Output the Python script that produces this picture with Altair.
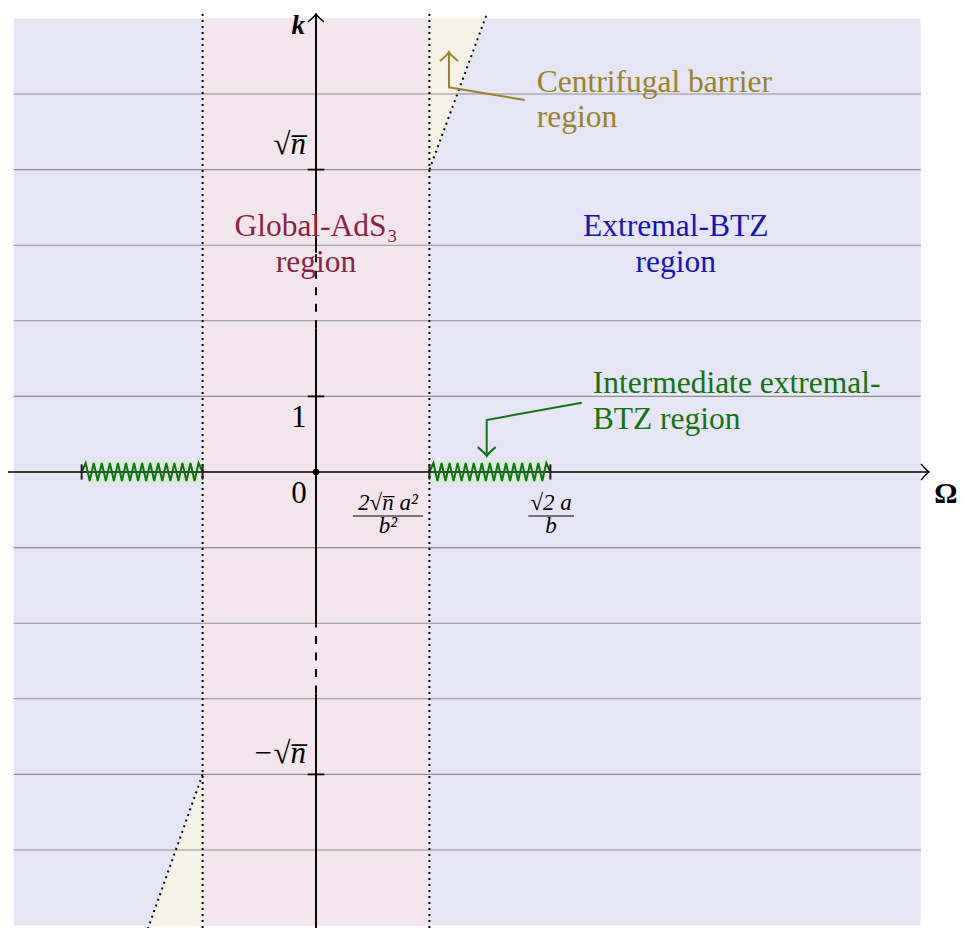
import altair as alt
import pandas as pd

# ---------------- data (diagram units: 1 grid step) ----------------
U = 75.6                      # px per unit (layout only)
W, H = 949, 920
XMIN, XMAX = -308 / U, (W - 308) / U
YMIN, YMAX = -(H - 464) / U, 464 / U

omega_range = [-4.0, 8.0]
k_range = [-6.0, 6.0]
omega_ads = 1.5               # 2 sqrt(n) a^2 / b^2
omega_btz = 3.1               # sqrt(2) a / b
sqrt_n = 4.0
grid_k = [-5, -4, -3, -2, -1, 1, 2, 3, 4, 5]
ytick_k = [4, 1, -4]
barrier_up = [[1.5, 4.0], [2.26, 6.06]]
barrier_dn = [[-1.5, -4.0], [-2.23, -6.06]]
dash_k_top = [1.9, 2.9]
dash_k_bot = [-2.93, -2.02]
zig_teeth = 15

region_labels = [
    ["Global-AdS\u2083", "region"],
    ["Extremal-BTZ", "region"],
    ["Centrifugal barrier", "region"],
    ["Intermediate extremal-", "BTZ region"],
]
ytick_labels = ["\u221an\u0305", "1", "0", "\u2212\u221an\u0305"]
xtick_num = ["2\u221an\u0305 a\u00b2", "\u221a2 a"]
xtick_den = ["b\u00b2", "b"]

LAV = "#e6e5f5"
PINK = "#f2e6ec"
YEL = "#f5f3e6"
GREEN = "#0f760f"
OLIVE = "#9a8226"
MAROON = "#8b1f45"
BLUE = "#1515b8"
FONT = "Liberation Serif, Times New Roman, serif"

xs = alt.Scale(domain=[XMIN, XMAX], nice=False, zero=False)
ys = alt.Scale(domain=[YMIN, YMAX], nice=False, zero=False)


def X(f="x"):
    return alt.X(f + ":Q", scale=xs, axis=None)


def Y(f="y"):
    return alt.Y(f + ":Q", scale=ys, axis=None)


def rects(rows, color):
    df = pd.DataFrame(rows, columns=["x", "x2", "y", "y2"])
    return alt.Chart(df).mark_rect(color=color).encode(
        x=X(), x2="x2:Q", y=Y(), y2="y2:Q")


def segs(rows, color, width, dash=None, cap="butt"):
    df = pd.DataFrame(rows, columns=["x", "x2", "y", "y2"])
    kw = dict(color=color, strokeWidth=width, strokeCap=cap)
    if dash:
        kw["strokeDash"] = dash
    return alt.Chart(df).mark_rule(**kw).encode(
        x=X(), x2="x2:Q", y=Y(), y2="y2:Q")


def polyline(pts, color, width, dash=None):
    df = pd.DataFrame(pts, columns=["x", "y"])
    df["o"] = range(len(df))
    kw = dict(color=color, strokeWidth=width)
    if dash:
        kw["strokeDash"] = dash
    return alt.Chart(df).mark_line(**kw).encode(
        x=X(), y=Y(), order="o:Q")


ARROW = "M -1 -1 Q -0.35 -0.2 0 0 Q -0.35 0.2 -1 1"


def head(x, y, angle, color, size, width=1.5):
    df = pd.DataFrame({"x": [x], "y": [y]})
    return alt.Chart(df).mark_point(
        shape=ARROW, filled=False, stroke=color, strokeWidth=width,
        size=size, angle=angle, opacity=1).encode(x=X(), y=Y())


def texts(rows, color, size, align="center", style="normal", weight="normal"):
    df = pd.DataFrame(rows, columns=["x", "y", "t"])
    return alt.Chart(df).mark_text(
        font=FONT, fontSize=size, color=color, align=align,
        baseline="alphabetic", fontStyle=style, fontWeight=weight).encode(
        x=X(), y=Y(), text="t:N")


layers = []
# backgrounds
layers.append(rects([[omega_range[0], omega_range[1], k_range[0], k_range[1]]], LAV))
layers.append(rects([[-omega_ads, omega_ads, k_range[0], k_range[1]]], PINK))
tri = pd.DataFrame({
    "x": [barrier_up[0][0], barrier_up[1][0] - (barrier_up[1][1] - 6.0) * 0.37],
    "y": [barrier_up[0][1], 6.0], "y2": [6.0, 6.0]})
layers.append(alt.Chart(tri).mark_area(color=YEL, opacity=1).encode(x=X(), y=Y(), y2="y2:Q"))
tri2 = pd.DataFrame({
    "x": [barrier_dn[1][0] + (-6.0 - barrier_dn[1][1]) * 0.37, barrier_dn[0][0]],
    "y": [-6.0, -6.0], "y2": [-6.0, barrier_dn[0][1]]})
layers.append(alt.Chart(tri2).mark_area(color=YEL, opacity=1).encode(x=X(), y=Y(), y2="y2:Q"))

# grid lines
layers.append(segs([[omega_range[0], omega_range[1], k, k] for k in grid_k], "#8e8e8e", 1.1))

# green bands behind the zigzags
layers.append(rects([[omega_ads, 3.03, -0.145, 0.145], [-3.0, -omega_ads, -0.145, 0.145]], "#d9ead6"))

# dotted boundaries
DOT = [2.0, 4.0]
layers.append(segs([[omega_ads, omega_ads, YMIN, 6.06], [-omega_ads, -omega_ads, YMIN, 6.06]],
                   "black", 2.0, DOT))
layers.append(polyline(barrier_up, "black", 2.0, DOT))
layers.append(polyline(barrier_dn, "black", 2.0, DOT))

# axes
layers.append(segs([[XMIN, 8.11, 0, 0]], "black", 1.4))
layers.append(segs([[0, 0, YMIN, dash_k_bot[0]], [0, 0, dash_k_bot[1], dash_k_top[0]],
                    [0, 0, dash_k_top[1], 6.06]], "black", 1.9))
layers.append(segs([[0, 0, dash_k_bot[0], dash_k_bot[1]], [0, 0, dash_k_top[0], dash_k_top[1]]],
                   "black", 1.9, [8, 8.5]))
layers.append(head(8.11, 0, 0, "black", 256, 1.4))
layers.append(head(0, 6.06, 270, "black", 256, 1.4))

# y ticks
layers.append(segs([[-0.11, 0.11, k, k] for k in ytick_k], "black", 1.8))

# zigzags
amp = 9 / U


def zig(a, b):
    n = 2 * zig_teeth
    pts = []
    for i in range(n + 1):
        xv = a + i * (b - a) / n
        yv = 0 if i in (0, n) else (amp if i % 2 else -amp)
        pts.append([xv, yv])
    return pts


layers.append(polyline(zig(omega_ads, omega_btz), GREEN, 2.0))
layers.append(polyline(zig(-omega_btz, -omega_ads), GREEN, 2.0))
layers.append(segs([[v, v, -0.1, 0.1] for v in [-omega_btz, -omega_ads, omega_ads, omega_btz]],
                   "#1a1a1a", 2.0))

# origin dot
layers.append(alt.Chart(pd.DataFrame({"x": [0], "y": [0]})).mark_point(
    filled=True, color="black", size=40, opacity=1).encode(x=X(), y=Y()))

# region labels
FS = 31.5
layers.append(texts([[0, 3.122, region_labels[0][0]], [0, 2.646, region_labels[0][1]]], MAROON, FS))
layers.append(texts([[4.758, 3.122, region_labels[1][0]], [4.758, 2.646, region_labels[1][1]]], BLUE, FS))
layers.append(texts([[2.919, 5.03, region_labels[2][0]], [2.919, 4.567, region_labels[2][1]]],
                    OLIVE, FS, align="left"))
layers.append(texts([[3.66, 1.041, region_labels[3][0]], [3.66, 0.569, region_labels[3][1]]],
                    GREEN, FS, align="left"))

# annotation arrows
layers.append(polyline([[2.76, 4.921], [1.759, 5.088], [1.759, 5.556]], OLIVE, 2.0))
layers.append(head(1.759, 5.556, 270, OLIVE, 324, 2.0))
layers.append(polyline([[3.515, 0.917], [2.258, 0.688], [2.258, 0.21]], GREEN, 2.0))
layers.append(head(2.258, 0.21, 90, GREEN, 324, 2.0))

# tick labels
layers.append(texts([[-0.132, 4.206, ytick_labels[0]], [-0.132, -3.849, ytick_labels[3]]],
                    "black", 31, align="right", style="italic"))
layers.append(texts([[-0.229, 0.599, ytick_labels[1]], [-0.225, -0.406, ytick_labels[2]]],
                    "black", 31))
layers.append(texts([[0.952, -0.503, xtick_num[0]], [3.11, -0.503, xtick_num[1]]],
                    "black", 23, style="italic"))
layers.append(texts([[0.952, -0.811, xtick_den[0]], [3.11, -0.811, xtick_den[1]]],
                    "black", 23, style="italic"))
layers.append(segs([[0.489, 1.415, -0.582, -0.582], [2.808, 3.413, -0.582, -0.582]], "black", 1.1))

# axis titles
layers.append(texts([[-0.146, 5.8, "k"]], "black", 27, align="right", style="italic", weight="bold"))
layers.append(texts([[8.33, -0.414, "\u03a9"]], "black", 29, weight="bold"))

chart = alt.layer(*layers).properties(
    width=W, height=H, padding=0,
    autosize=alt.AutoSizeParams(type="none"),
    background="white",
).configure_view(strokeWidth=0)

chart.save("out.html", embed_options={"renderer": "svg", "actions": False})
